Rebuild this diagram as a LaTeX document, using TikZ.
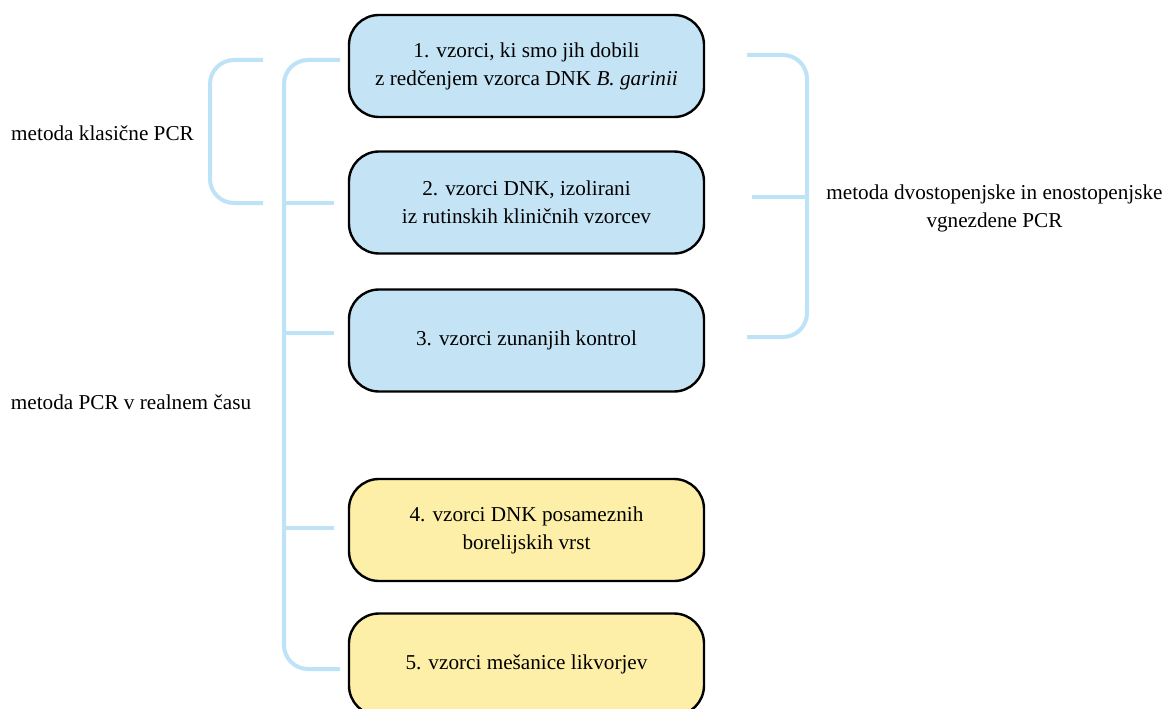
\documentclass[tikz,border=0pt]{standalone}
\usepackage{fontspec}
\setmainfont{Liberation Serif}
\definecolor{brk}{RGB}{190,226,246}
\definecolor{bluefill}{RGB}{196,228,246}
\definecolor{yelfill}{RGB}{253,239,167}
\begin{document}
\begin{tikzpicture}[x=1pt,y=-1pt,
  sample/.style={draw=black, line width=2.4pt, rounded corners=30pt, minimum width=355pt, minimum height=102pt, align=center, inner sep=0pt, font=\fontsize{21.2}{28}\selectfont},
  bluebox/.style={sample, fill=bluefill},
  yelbox/.style={sample, fill=yelfill},
  bracket/.style={draw=brk, line width=4pt, rounded corners=24pt},
  tick/.style={draw=brk, line width=4pt},
  lbl/.style={align=center, inner sep=0pt, font=\fontsize{21.2}{28}\selectfont}]
\useasboundingbox (0,0) rectangle (1165,709);
\clip (0,0) rectangle (1165,709);
% boxes
\node[bluebox] (b1) at (526.5,66) {1. vzorci, ki smo jih dobili\\z redčenjem vzorca DNK \textit{B. garinii}};
\node[bluebox] (b2) at (526.5,202.5) {2. vzorci DNK, izolirani\\iz rutinskih kliničnih vzorcev};
\node[bluebox] (b3) at (526.5,340.5) {3. vzorci zunanjih kontrol};
\node[yelbox] (b4) at (526.5,530) {4. vzorci DNK posameznih\\borelijskih vrst};
\node[yelbox] (b5) at (526.5,664.5) {5. vzorci mešanice likvorjev};
% labels
\node[lbl] (l1) at (102.5,133) {metoda klasične PCR};
\node[lbl] (l2) at (131,402) {metoda PCR v realnem času};
\node[lbl] (l3) at (994.5,208) {metoda dvostopenjske in enostopenjske\\vgnezdene PCR};
% outer left bracket
\coordinate (o1) at (263,60);
\coordinate (o2) at (263,203);
\draw[bracket] (o1) -- (210,60) -- (210,203) -- (o2);
% inner left bracket
\coordinate (i1) at (340,60);
\coordinate (i5) at (340,669);
\draw[bracket] (i1) -- (284,60) -- (284,669) -- (i5);
\coordinate (i2) at (334,203);
\coordinate (i3) at (334,333);
\coordinate (i4) at (334,528);
\draw[tick] (284,203) -- (i2);
\draw[tick] (284,333) -- (i3);
\draw[tick] (284,528) -- (i4);
% right bracket
\coordinate (r1) at (747,55);
\coordinate (r3) at (747,337);
\draw[bracket] (r1) -- (807,55) -- (807,337) -- (r3);
\coordinate (r2) at (752,197);
\draw[tick] (807,197) -- (r2);
\end{tikzpicture}
\end{document}
